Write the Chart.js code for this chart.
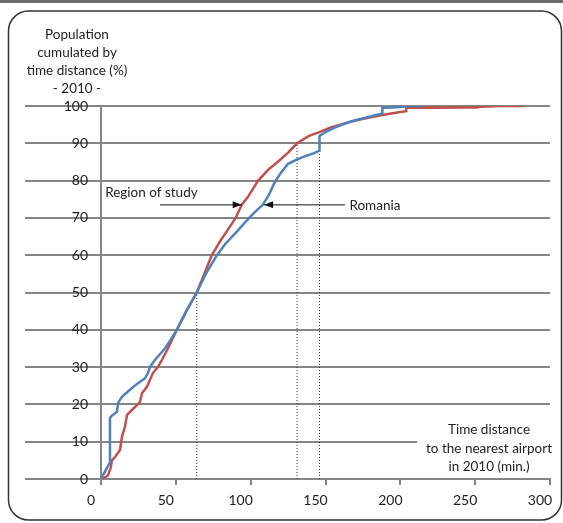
<!DOCTYPE html>
<html>
<head>
<meta charset="utf-8">
<script src="https://cdn.jsdelivr.net/npm/chart.js@4"></script>
<style>
  html, body { margin: 0; padding: 0; background: #fff; }
  #wrap { width: 563px; height: 523px; }
</style>
</head>
<body>
<div id="wrap"><canvas id="chart" width="563" height="523"></canvas></div>
<script>
// Population cumulee par temps d'acces (%), 2010
const regionX = [0, 3, 4.7, 6.5, 7.3, 9.4, 12.7, 14, 16, 17.4, 20.7, 26, 27.4, 30.7, 34.7, 38, 40.7, 44.7, 50.7, 57, 64, 69, 74, 80, 85, 90, 94, 98, 105, 112, 118, 125, 131, 139, 146, 153, 160, 166, 172, 178, 188, 200, 204, 204, 218, 240, 251, 253, 267, 283];
const regionY = [0, 0.5, 1, 3, 5, 5.9, 7.8, 11.3, 14, 17.2, 18.5, 20.6, 23, 24.7, 28.4, 30, 31.9, 35, 40, 45, 50, 55, 60, 64, 67, 70, 73.5, 75.5, 80, 83, 85, 87.5, 90, 92, 93, 94.2, 95, 95.7, 96.3, 96.8, 97.6, 98.4, 98.6, 99.5, 99.5, 99.6, 99.6, 99.8, 100, 100];

const romaniaX = [0, 2, 4, 6, 6, 7.3, 10.7, 11.4, 14, 20.7, 24.7, 29.4, 31.4, 32.7, 36, 42.7, 46, 50.7, 57, 64, 70, 77.5, 83, 90, 99, 104, 108, 112, 116, 120, 125, 130, 136, 142, 146, 146, 150, 155, 160, 166, 172, 178, 183, 188, 188, 195, 200, 205, 214];
const romaniaY = [0, 1.5, 3, 4.5, 16.4, 17, 18, 20.4, 22, 24.4, 25.7, 27, 28.4, 30, 31.9, 35, 37, 40, 45, 50, 55, 60, 63, 66, 70, 72, 73.5, 76, 79.5, 82, 84.5, 85.5, 86.5, 87.3, 88, 92, 93, 94, 94.8, 95.7, 96.4, 97, 97.5, 98, 99.5, 99.6, 99.7, 100, 100];

// lignes pointillees (temps pour 50% et 90%)
const dropX = [64, 131, 146];
const dropY = [50, 90, 90];

const xTicks = [0, 50, 100, 150, 200, 250, 300];
const yTicks = [0, 10, 20, 30, 40, 50, 60, 70, 80, 90, 100];

const yTitle = ['Population', 'cumulated by', 'time distance (%)', '- 2010 -'];
const xTitle = ['Time distance', 'to the nearest airport', 'in 2010 (min.)'];
const labelRegion = 'Region of study';
const labelRomania = 'Romania';

const FONT = 'Lato, "Open Sans", sans-serif';
const GRID = '#858585';
const RED = '#c0504d';
const BLUE = '#4f81bd';

function pts(xs, ys) {
  return xs.map((x, i) => ({ x: x, y: ys[i] }));
}

const datasets = [
  { label: labelRomania, data: pts(romaniaX, romaniaY), borderColor: BLUE, borderWidth: 2.5 },
  { label: labelRegion, data: pts(regionX, regionY), borderColor: RED, borderWidth: 2.5 }
];
dropX.forEach((x, i) => {
  datasets.push({
    label: 'drop' + i,
    data: [{ x: x, y: 0 }, { x: x, y: dropY[i] }],
    borderColor: '#333',
    borderWidth: 1,
    borderDash: [1, 2]
  });
});
datasets.forEach(d => {
  d.showLine = true;
  d.pointRadius = 0;
  d.tension = 0;
  d.fill = false;
});

function arrow(c, x1, x2, y) {
  c.beginPath();
  c.moveTo(x1, y);
  c.lineTo(x2, y);
  c.stroke();
  const dir = x2 > x1 ? 1 : -1;
  c.beginPath();
  c.moveTo(x2, y);
  c.lineTo(x2 - dir * 9, y - 3.5);
  c.lineTo(x2 - dir * 9, y + 3.5);
  c.closePath();
  c.fill();
}

const extras = {
  id: 'extras',
  beforeDraw(chart) {
    const c = chart.ctx;
    c.save();
    c.fillStyle = '#fff';
    c.fillRect(0, 0, chart.width, chart.height);
    c.restore();
  },
  afterDraw(chart) {
    const c = chart.ctx;
    const xs = chart.scales.x, ys = chart.scales.y;
    c.save();
    // bande grise en haut + cadre arrondi
    c.fillStyle = '#6b6b6b';
    c.fillRect(0, 0, chart.width, 3);
    c.strokeStyle = '#333';
    c.lineWidth = 1.5;
    c.beginPath();
    c.roundRect(8.5, 11, 553, 509, 20);
    c.stroke();

    // titre axe y
    c.fillStyle = '#222';
    c.font = '13.5px ' + FONT;
    c.textAlign = 'center';
    c.textBaseline = 'middle';
    yTitle.forEach((t, i) => c.fillText(t, 77, 35 + i * 18));

    // titre axe x (fond blanc qui coupe la ligne 10)
    c.fillStyle = '#fff';
    c.fillRect(417, 418, 140, 58);
    c.fillStyle = '#222';
    xTitle.forEach((t, i) => c.fillText(t, 489, 430 + i * 18.5));

    // etiquettes avec fleches
    const ya = ys.getPixelForValue(73.5);
    c.textAlign = 'left';
    c.fillText(labelRegion, xs.getPixelForValue(2.8), ys.getPixelForValue(76.7));
    c.fillText(labelRomania, xs.getPixelForValue(166), ya + 1);
    c.strokeStyle = '#111';
    c.fillStyle = '#111';
    c.lineWidth = 1;
    arrow(c, xs.getPixelForValue(39.4), xs.getPixelForValue(94), ya);
    arrow(c, xs.getPixelForValue(163), xs.getPixelForValue(109), ya);
    c.restore();
  }
};

new Chart(document.getElementById('chart'), {
  type: 'scatter',
  data: { datasets: datasets },
  options: {
    responsive: false,
    animation: false,
    devicePixelRatio: 1,
    layout: { padding: { top: 106, right: 13, bottom: 0, left: 0 } },
    plugins: { legend: { display: false }, tooltip: { enabled: false }, title: { display: false } },
    scales: {
      x: {
        type: 'linear',
        min: 0,
        max: 300,
        afterBuildTicks: s => { s.ticks = xTicks.map(v => ({ value: v })); },
        afterFit: s => { s.height = 44; s.paddingRight = 0; s.paddingLeft = 0; },
        grid: { drawOnChartArea: false, drawTicks: true, tickLength: 6, color: GRID, lineWidth: 2 },
        border: { display: true, color: GRID, width: 2 },
        ticks: { color: '#222', font: { family: FONT, size: 14 }, padding: 7, labelOffset: -10, maxRotation: 0 }
      },
      y: {
        min: 0,
        max: 100,
        afterBuildTicks: s => { s.ticks = yTicks.map(v => ({ value: v })); },
        afterFit: s => { s.width = 101; },
        grid: { color: GRID, lineWidth: 2, drawTicks: true, tickLength: 76 },
        border: { display: true, color: GRID, width: 2 },
        ticks: { color: '#222', font: { family: FONT, size: 14 }, padding: -63 }
      }
    }
  },
  plugins: [extras]
});
</script>
</body>
</html>
